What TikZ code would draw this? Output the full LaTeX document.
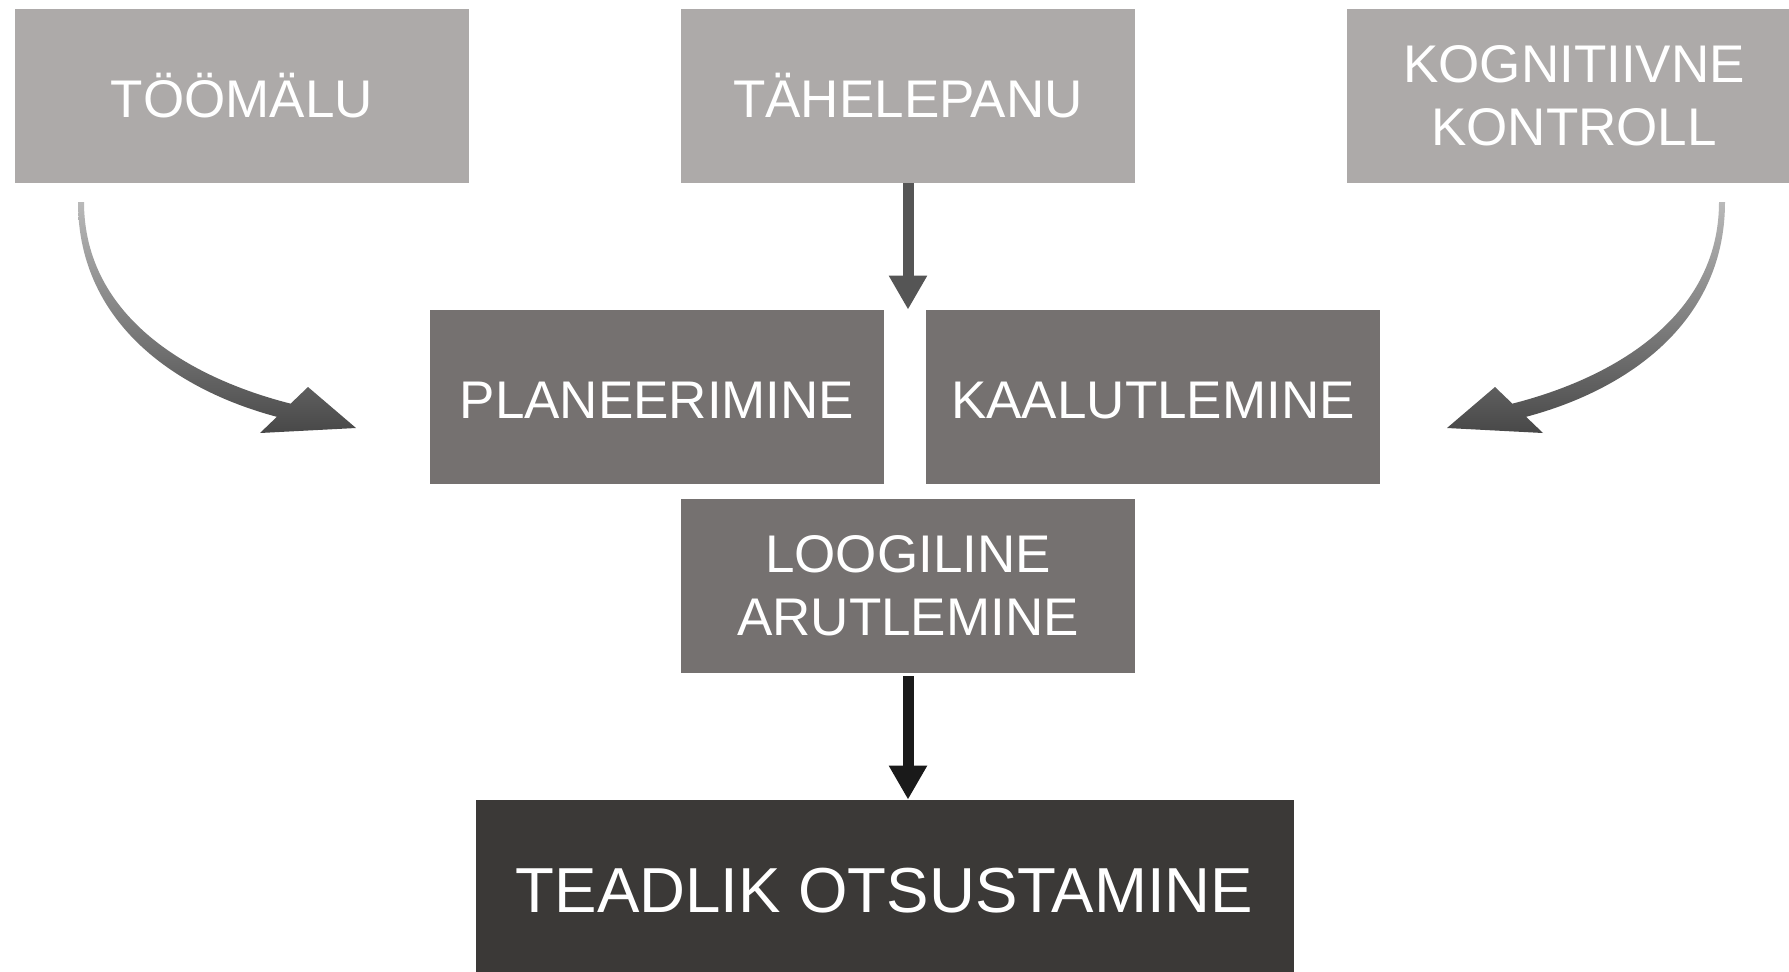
\documentclass[tikz,border=0pt]{standalone}
\usepackage{fontspec}
\setmainfont{Liberation Sans}
\usepackage{tikz}
\usetikzlibrary{arrows.meta}
\definecolor{boxlight}{RGB}{173, 170, 169}
\definecolor{boxmid}{RGB}{117, 113, 112}
\definecolor{boxdark}{RGB}{59, 57, 55}
\definecolor{arrowgray}{RGB}{85, 85, 85}
\definecolor{arrowblack}{RGB}{26, 26, 26}
\definecolor{swooshlight}{RGB}{185, 185, 185}
\definecolor{swooshdark}{RGB}{72, 72, 72}
\tikzset{
    stagebox/.style={rectangle, inner sep=0pt, minimum width=227pt, minimum height=87pt, text=white, align=center, font=\fontsize{26.5}{31.5}\selectfont},
    oneline/.style={text height=22pt, text depth=0.4pt},
    topbox/.style={stagebox, fill=boxlight},
    midbox/.style={stagebox, fill=boxmid},
    endbox/.style={stagebox, fill=boxdark, minimum width=409pt, minimum height=90pt, font=\fontsize{31.8}{38}\selectfont, text height=23pt, text depth=0.5pt},
    flowarrow/.style={line width=5.5pt, -{Triangle[width=18pt, length=17pt]}},
    swooshfill/.style={top color=swooshlight, bottom color=swooshdark},
    swoosh/.pic={
        \shade[swooshfill] (78,202) .. controls (78,327) and (183,396) .. (293.1,420.8)
            -- (296.9,405.2) .. controls (192,380) and (84,318) .. (84,202) -- cycle
            (308,387) -- (260,433) -- (356,428) -- cycle;
    }
}
\begin{document}
\begin{tikzpicture}[x=0.5pt, y=-0.5pt]
    \useasboundingbox (0,0) rectangle (1789,971);
    \clip (0,0) rectangle (1789,971);
    \fill[white] (0,0) rectangle (1789,971);

    % top row
    \node[topbox, oneline] (toomalu) at (242,96) {TÖÖMÄLU};
    \node[topbox, oneline] (tahelepanu) at (908,96) {TÄHELEPANU};
    \node[topbox] (kognitiivne) at (1574,96) {KOGNITIIVNE\\KONTROLL};

    % middle
    \node[midbox, oneline] (planeerimine) at (657,397) {PLANEERIMINE};
    \node[midbox, oneline] (kaalutlemine) at (1153,397) {KAALUTLEMINE};
    \node[midbox] (loogiline) at (908,586) {LOOGILINE\\ARUTLEMINE};

    % bottom
    \node[endbox] (teadlik) at (884.5,890) {TEADLIK OTSUSTAMINE};

    % arrows
    \draw[flowarrow, arrowgray] (tahelepanu.south) -- (tahelepanu.south |- planeerimine.north);
    \draw[flowarrow, arrowblack, shorten <=1.5pt] (loogiline.south) -- (loogiline.south |- teadlik.north);
    \pic at (0,0) {swoosh};
    \pic[xscale=-1] at (1803,0) {swoosh};
\end{tikzpicture}
\end{document}
